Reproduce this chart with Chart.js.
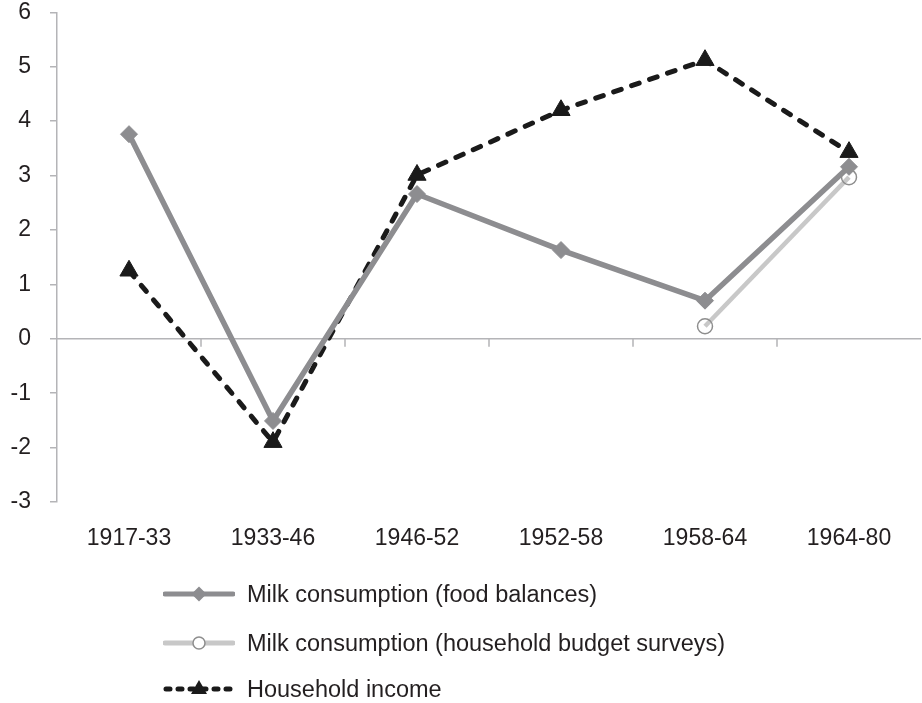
<!DOCTYPE html>
<html>
<head>
<meta charset="utf-8">
<script src="https://cdn.jsdelivr.net/npm/chart.js@4.4.1/dist/chart.umd.min.js"></script>
<style>
  html, body { margin: 0; padding: 0; background: #fff; }
  #wrap { position: relative; width: 922px; height: 703px; }
  #c { position: absolute; left: 0; top: 0; }
  .leg { position: absolute; left: 163px; height: 30px; display: flex; align-items: center;
         font-family: "Liberation Sans", Arial, sans-serif; font-size: 23.5px; color: #231f20; white-space: nowrap; }
  .leg svg { margin-right: 12px; flex: none; }
</style>
</head>
<body>
<div id="wrap">
  <canvas id="c" width="922" height="703"></canvas>
  <div id="legend"></div>
</div>
<script>
const categories = ['1917-33', '1933-46', '1946-52', '1952-58', '1958-64', '1964-80'];
const yTicks = [-3, -2, -1, 0, 1, 2, 3, 4, 5, 6];
const seriesNames = ['Milk consumption (food balances)', 'Milk consumption (household budget surveys)', 'Household income'];
const milkFoodBalances = [3.76, -1.51, 2.66, 1.63, 0.70, 3.16];
const milkBudgetSurveys = [null, null, null, null, 0.23, 2.97];
const householdIncome = [1.25, -1.90, 3.01, 4.20, 5.12, 3.43];

const AXIS = '#b4b4b7';
const FONT = '"Liberation Sans", Arial, sans-serif';
const FOOD = '#8d8d90', BUDGET = '#c8c8c8', BUDGET_PT = '#8e8e8e', INCOME = '#1a1a1a';

const zeroAxis = {
  id: 'zeroAxis',
  beforeDatasetsDraw(chart) {
    const { ctx, chartArea, scales: { x, y } } = chart;
    const y0 = y.getPixelForValue(0);
    ctx.save();
    ctx.strokeStyle = AXIS;
    ctx.lineWidth = 1.5;
    ctx.beginPath();
    ctx.moveTo(chartArea.left, y0);
    ctx.lineTo(chartArea.right, y0);
    for (let i = 0; i < categories.length - 1; i++) {
      const px = (x.getPixelForValue(i) + x.getPixelForValue(i + 1)) / 2;
      ctx.moveTo(px, y0);
      ctx.lineTo(px, y0 + 8);
    }
    ctx.stroke();
    ctx.restore();
  }
};

new Chart(document.getElementById('c'), {
  type: 'line',
  data: {
    labels: categories,
    datasets: [
      {
        label: seriesNames[0], data: milkFoodBalances, order: 2,
        borderColor: FOOD, backgroundColor: FOOD, borderWidth: 5.5, tension: 0,
        pointStyle: 'rectRot', pointRadius: 8.5, pointBorderWidth: 1, pointBorderColor: FOOD, pointBackgroundColor: FOOD
      },
      {
        label: seriesNames[1], data: milkBudgetSurveys, order: 1,
        borderColor: BUDGET, backgroundColor: 'rgba(0,0,0,0)', borderWidth: 4.5, tension: 0,
        pointStyle: 'circle', pointRadius: 7.5, pointBorderWidth: 1.5, pointBorderColor: BUDGET_PT, pointBackgroundColor: 'rgba(0,0,0,0)'
      },
      {
        label: seriesNames[2], data: householdIncome, order: 3,
        borderColor: INCOME, backgroundColor: INCOME, borderWidth: 5, tension: 0,
        borderDash: [8, 11], borderCapStyle: 'round',
        pointStyle: 'triangle', pointRadius: 10.5, pointBorderWidth: 1, pointBorderColor: INCOME, pointBackgroundColor: INCOME
      }
    ]
  },
  options: {
    responsive: false,
    animation: false,
    devicePixelRatio: 1,
    layout: { autoPadding: false, padding: { top: 12.3, right: 1, left: 0, bottom: 0 } },
    plugins: { legend: { display: false }, tooltip: { enabled: false } },
    scales: {
      x: {
        type: 'category',
        offset: true,
        grid: { display: false, drawTicks: false },
        border: { display: false },
        ticks: { font: { family: FONT, size: 23 }, color: '#231f20', padding: 23, maxRotation: 0 },
        afterFit(s) { s.height = 201; s.paddingLeft = 0; s.paddingRight = 0; }
      },
      y: {
        min: yTicks[0], max: yTicks[yTicks.length - 1],
        afterBuildTicks(s) { s.ticks = yTicks.map(v => ({ value: v })); },
        grid: { drawOnChartArea: false, drawTicks: true, tickLength: 7, color: AXIS, lineWidth: 1.5 },
        border: { display: true, color: AXIS, width: 1.5 },
        ticks: { font: { family: FONT, size: 23, lineHeight: 1.1 }, color: '#231f20', padding: 19 },
        afterFit(s) { s.width = 57; s.paddingTop = 0; s.paddingBottom = 0; }
      }
    }
  },
  plugins: [zeroAxis]
});

// HTML legend
const legendRows = [
  { name: seriesNames[0], center: 594,
    svg: `<svg width="72" height="24"><line x1="2" y1="12" x2="70" y2="12" stroke="${FOOD}" stroke-width="5" stroke-linecap="round"/><polygon points="36,4.5 43.5,12 36,19.5 28.5,12" fill="${FOOD}"/></svg>` },
  { name: seriesNames[1], center: 643,
    svg: `<svg width="72" height="24"><line x1="2" y1="12" x2="70" y2="12" stroke="${BUDGET}" stroke-width="5" stroke-linecap="round"/><circle cx="36" cy="12" r="6" fill="#fff" stroke="${BUDGET_PT}" stroke-width="1.5"/></svg>` },
  { name: seriesNames[2], center: 689,
    svg: `<svg width="72" height="24"><line x1="3" y1="12" x2="70" y2="12" stroke="${INCOME}" stroke-width="5" stroke-linecap="round" stroke-dasharray="4 8"/><polygon points="36,3 44,17 28,17" fill="${INCOME}"/></svg>` }
];
const leg = document.getElementById('legend');
legendRows.forEach(r => {
  const d = document.createElement('div');
  d.className = 'leg';
  d.style.top = (r.center - 15) + 'px';
  d.innerHTML = r.svg + '<span>' + r.name + '</span>';
  leg.appendChild(d);
});
</script>
</body>
</html>
